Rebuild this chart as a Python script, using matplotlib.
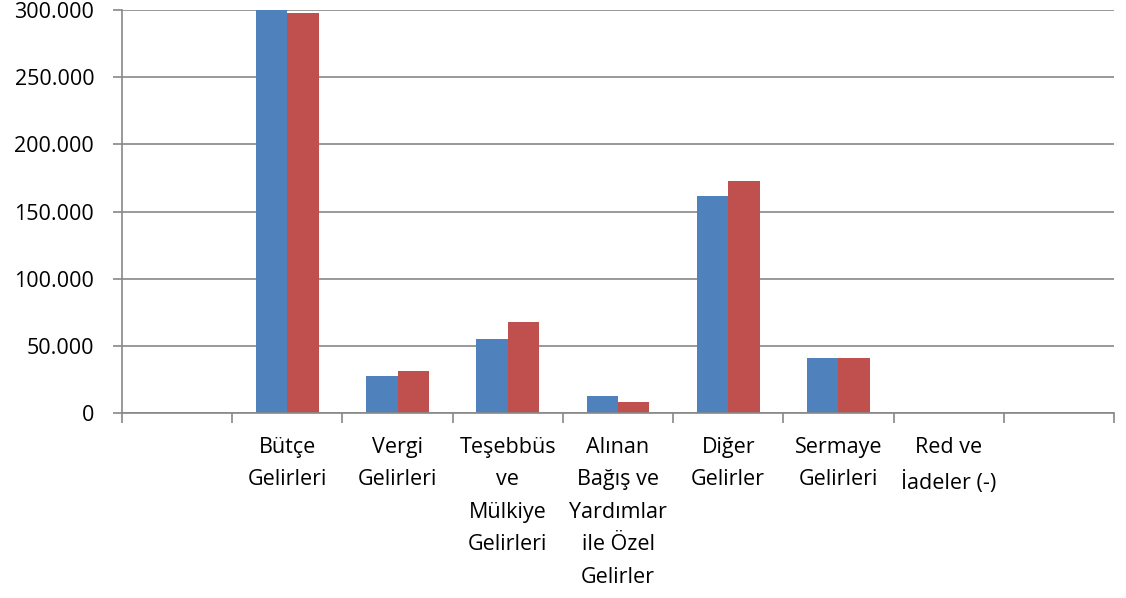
import numpy as np
import matplotlib.pyplot as plt
from matplotlib.ticker import FuncFormatter, FixedLocator

plt.rcParams['font.family'] = ['Open Sans', 'DejaVu Sans']

categories = ['', 'Bütçe\nGelirleri', 'Vergi\nGelirleri', 'Teşebbüs\nve\nMülkiye\nGelirleri',
              'Alınan\nBağış ve\nYardımlar\nile Özel\nGelirler', 'Diğer\nGelirler',
              'Sermaye\nGelirleri', 'Red ve\nİadeler (-)', '']
series_1 = [0, 300000, 27800, 55300, 12400, 161800, 41000, 0, 0]
series_2 = [0, 297500, 31300, 68000, 8000, 172700, 41000, 0, 0]

blue = '#4F81BD'
red = '#C0504D'
grid_col = '#888888'

fig = plt.figure(figsize=(11.26, 5.98), dpi=100)
ax = fig.add_axes([122 / 1126, 1 - 413 / 598, (1114 - 122) / 1126, (413 - 10) / 598])

x = np.arange(len(categories))
w = 0.285
ax.bar(x - w / 2, series_1, w, color=blue, zorder=3)
ax.bar(x + w / 2, series_2, w, color=red, zorder=3)

ax.set_xlim(-0.5, len(categories) - 0.5)
ax.set_ylim(0, 300000)
ax.set_yticks(np.arange(0, 300001, 50000))
ax.yaxis.set_major_formatter(FuncFormatter(lambda v, p: f'{int(v):,}'.replace(',', '.')))
ax.grid(axis='y', color=grid_col, linewidth=1.2, zorder=0)

ax.set_xticks(x)
ax.set_xticklabels(categories, linespacing=1.72, va='top')
ax.xaxis.set_minor_locator(FixedLocator(np.arange(-0.5, len(categories), 1.0)))
ax.tick_params(axis='x', which='major', length=0, pad=17, labelsize=15.5)
ax.tick_params(axis='x', which='minor', length=7, width=1.2, color=grid_col, direction='out')
ax.tick_params(axis='y', length=6.5, width=1.2, color=grid_col, pad=13.5, labelsize=15.5)

for s in ['top', 'right']:
    ax.spines[s].set_visible(False)
for s in ['left', 'bottom']:
    ax.spines[s].set_color(grid_col)
    ax.spines[s].set_linewidth(1.2)
    ax.spines[s].set_zorder(4)

fig.savefig('out.png', dpi=100)
